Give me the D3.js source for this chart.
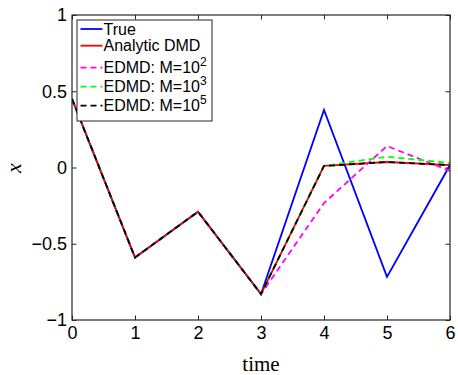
<!DOCTYPE html>
<html><head><meta charset="utf-8">
<script src="https://cdn.jsdelivr.net/npm/d3@7"></script>
<style>body{margin:0;background:#fff}</style>
</head><body>
<svg id="c" width="458" height="375"></svg>
<script>
const times = [0,1,2,3,4,5,6];
const trueVals = [0.45,-0.59,-0.29,-0.83,0.377,-0.717,0.016];
const dmdVals = [0.45,-0.59,-0.29,-0.83,0.01,0.036,0.016];
const edmd2Vals = [0.45,-0.59,-0.29,-0.83,-0.233,0.141,-0.023];
const edmd3Vals = [0.45,-0.59,-0.29,-0.83,0.01,0.071,0.03];
const edmd5Vals = [0.45,-0.59,-0.29,-0.83,0.01,0.036,0.016];
const xTicks = [0,1,2,3,4,5,6];
const yTicks = [-1,-0.5,0,0.5,1];
const seriesNames = ["True","Analytic DMD","EDMD: M=10","EDMD: M=10","EDMD: M=10"];
const seriesSup = ["","","2","3","5"];

const series = [
  {vals: trueVals, color:"#0000ff", dash:null},
  {vals: dmdVals, color:"#ff0000", dash:null},
  {vals: edmd2Vals, color:"#ff00ff", dash:"6,4"},
  {vals: edmd3Vals, color:"#00ff00", dash:"6,4"},
  {vals: edmd5Vals, color:"#000000", dash:"6,4"}
];

const svg = d3.select("#c");
const L=72,R=450,T=15,B=320;
const x = d3.scaleLinear().domain([0,6]).range([L,R]);
const y = d3.scaleLinear().domain([-1,1]).range([B,T]);

svg.append("clipPath").attr("id","clip").append("rect").attr("x",L).attr("y",T).attr("width",R-L).attr("height",B-T);
const g = svg.append("g").attr("clip-path","url(#clip)");

const line = d3.line().x((d,i)=>x(times[i])).y(d=>y(d));
series.forEach(s=>{
  g.append("path").attr("d",line(s.vals)).attr("fill","none")
   .attr("stroke",s.color).attr("stroke-width",1.8)
   .attr("stroke-dasharray",s.dash);
});

const font = "Liberation Sans, Arial, sans-serif";
// axes
const ax = svg.append("g").attr("transform",`translate(0,${B})`)
  .call(d3.axisBottom(x).tickValues(xTicks).tickSize(-4.5).tickPadding(6).tickFormat(d3.format("d")));
const axT = svg.append("g").attr("transform",`translate(0,${T})`)
  .call(d3.axisTop(x).tickValues(xTicks).tickSize(-4.5).tickFormat(""));
const ay = svg.append("g").attr("transform",`translate(${L},0)`)
  .call(d3.axisLeft(y).tickValues(yTicks).tickSize(-4.5).tickPadding(5).tickFormat(d=>d3.format("")(d)));
const ayR = svg.append("g").attr("transform",`translate(${R},0)`)
  .call(d3.axisRight(y).tickValues(yTicks).tickSize(-4.5).tickFormat(""));
[ax,axT,ay,ayR].forEach(a=>{
  a.select(".domain").remove();
  a.selectAll("line").attr("stroke","#262626");
  a.selectAll("text").attr("font-family",font).attr("font-size",18).attr("fill","#000");
});
svg.append("rect").attr("x",L).attr("y",T).attr("width",R-L).attr("height",B-T)
  .attr("fill","none").attr("stroke","#262626").attr("stroke-width",1.2);

// axis labels
svg.append("text").attr("x",(L+R)/2).attr("y",371).attr("text-anchor","middle")
  .attr("font-family","Liberation Serif, serif").attr("font-size",21).text("time");
svg.append("text").attr("transform","translate(21,168) rotate(-90)").attr("text-anchor","middle")
  .attr("font-family","Liberation Serif, serif").attr("font-style","italic").attr("font-size",22).text("x");

// legend
const lg = svg.append("g");
lg.append("rect").attr("x",77).attr("y",20).attr("width",135).attr("height",101)
  .attr("fill","#fff").attr("stroke","#262626").attr("stroke-width",1);
const ly = [29,45.7,67.7,86.7,105.7];
series.forEach((s,i)=>{
  lg.append("line").attr("x1",80.5).attr("x2",102.5).attr("y1",ly[i]).attr("y2",ly[i])
    .attr("stroke",s.color).attr("stroke-width",1.8).attr("stroke-dasharray",s.dash);
  const t = lg.append("text").attr("x",103.5).attr("y",ly[i]+5.5)
    .attr("font-family",font).attr("font-size",16).text(seriesNames[i]);
  if (seriesSup[i]) t.append("tspan").attr("dy",-7).attr("font-size",12).text(seriesSup[i]);
});
</script>
</body></html>
